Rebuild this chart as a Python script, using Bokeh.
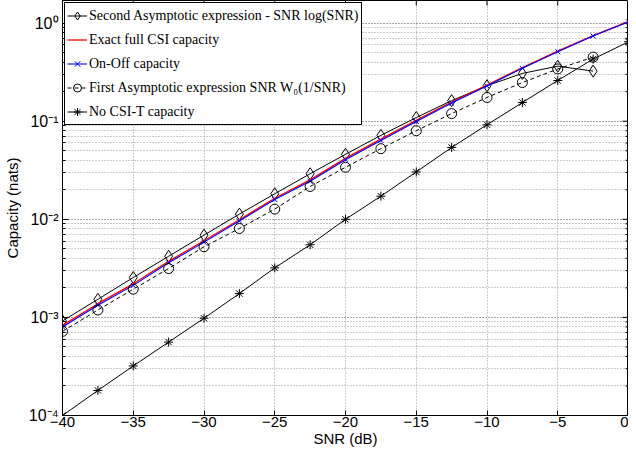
from bokeh.plotting import figure
from bokeh.models import Range1d, FixedTicker, LogTicker, Legend, LegendItem
from bokeh.embed import file_html
from bokeh.resources import INLINE

# ---------------- data ----------------
snr_db = [-40, -37.5, -35, -32.5, -30, -27.5, -25, -22.5, -20,
          -17.5, -15, -12.5, -10, -7.5, -5, -2.5, 0]

# Second asymptotic expression - SNR log(SNR)  (no point at 0 dB)
second_asym = [9.2e-4, 1.53e-3, 2.55e-3, 4.2e-3, 6.9e-3, 0.0113, 0.0182,
               0.0291, 0.046, 0.0717, 0.109, 0.162, 0.23, 0.307, 0.364, 0.324]

# Exact full CSI capacity
exact_csi = [8.3e-4, 1.38e-3, 2.2e-3, 3.73e-3, 6.05e-3, 9.9e-3, 0.0164,
             0.0252, 0.0418, 0.0656, 0.102, 0.157, 0.234, 0.352, 0.518,
             0.745, 1.04]

# On-Off capacity
on_off = [8.0e-4, 1.33e-3, 2.12e-3, 3.6e-3, 5.85e-3, 9.6e-3, 0.0159,
          0.0244, 0.0405, 0.0637, 0.0993, 0.153, 0.229, 0.346, 0.511,
          0.738, 1.03]

# First asymptotic expression SNR W0(1/SNR)  (no point at 0 dB)
first_asym = [7.2e-4, 1.19e-3, 1.94e-3, 3.15e-3, 5.25e-3, 8.06e-3, 0.0127,
              0.0216, 0.0339, 0.0525, 0.0799, 0.1195, 0.1745, 0.248, 0.341,
              0.45]

# No CSI-T capacity
no_csit = [1.0e-4, 1.8e-4, 3.2e-4, 5.6e-4, 9.8e-4, 1.75e-3, 3.2e-3, 5.5e-3,
           0.0100, 0.0172, 0.0304, 0.054, 0.092, 0.155, 0.26, 0.43, 0.645]

x_ticks = [-40, -35, -30, -25, -20, -15, -10, -5, 0]
x_tick_labels = ["\u221240", "\u221235", "\u221230", "\u221225", "\u221220",
                 "\u221215", "\u221210", "\u22125", "0"]
y_ticks = [1e-4, 1e-3, 1e-2, 1e-1, 1e0]
y_tick_labels = ["10\u207b\u2074", "10\u207b\u00b3", "10\u207b\u00b2",
                 "10\u207b\u00b9", "10\u2070"]

labels = ["Second Asymptotic expression - SNR log(SNR)",
          "Exact full CSI capacity",
          "On-Off capacity",
          "First Asymptotic expression SNR W\u2080(1/SNR)",
          "No CSI-T capacity"]

X_MIN, X_MAX = -40, 0
Y_MIN, Y_MAX = 1e-4, 1.7

# ---------------- figure ----------------
p = figure(width=628, height=449, y_axis_type="log",
           x_range=Range1d(X_MIN, X_MAX), y_range=Range1d(Y_MIN, Y_MAX),
           output_backend="svg", toolbar_location=None,
           min_border_left=52, min_border_right=0, min_border_top=0,
           min_border_bottom=30)
p.outline_line_color = "black"
p.outline_line_alpha = 1.0
p.background_fill_color = "white"

sans = "Liberation Sans"
serif = "Liberation Serif"

# bottom axis
xa = p.xaxis[0]
xa.ticker = FixedTicker(ticks=x_ticks)
xa.major_label_overrides = {t: l for t, l in zip(x_ticks, x_tick_labels)}
xa.major_tick_in = 5
xa.major_tick_out = 0
xa.minor_tick_line_color = None
xa.axis_line_color = "black"
xa.major_tick_line_color = "black"
xa.major_label_text_font = sans
xa.major_label_text_font_size = "15px"
xa.major_label_text_color = "black"
xa.major_label_standoff = 1
xa.axis_label = "SNR (dB)"
xa.axis_label_text_font = sans
xa.axis_label_text_font_size = "15px"
xa.axis_label_text_font_style = "normal"
xa.axis_label_text_color = "black"
xa.axis_label_standoff = 0

# left axis
ya = p.yaxis[0]
ya.ticker = LogTicker(num_minor_ticks=10)
ya.major_label_overrides = {t: l for t, l in zip(y_ticks, y_tick_labels)}
ya.major_tick_in = 6
ya.major_tick_out = 0
ya.minor_tick_in = 3
ya.minor_tick_out = 0
ya.axis_line_color = "black"
ya.major_tick_line_color = "black"
ya.minor_tick_line_color = "black"
ya.major_label_text_font = sans
ya.major_label_text_font_size = "16px"
ya.major_label_text_color = "black"
ya.major_label_standoff = 4
ya.axis_label = "Capacity (nats)"
ya.axis_label_text_font = sans
ya.axis_label_text_font_size = "15px"
ya.axis_label_text_font_style = "normal"
ya.axis_label_text_color = "black"
ya.axis_label_standoff = 5

# grids
p.xgrid.ticker = FixedTicker(ticks=x_ticks)
p.xgrid.grid_line_color = "#9a9a9a"
p.xgrid.grid_line_dash = "1 2"
p.ygrid.grid_line_color = "#9a9a9a"
p.ygrid.grid_line_dash = "1 2"
p.ygrid.minor_grid_line_color = "#9a9a9a"
p.ygrid.minor_grid_line_dash = "1 2"

# top / right box ticks (dash markers centred on the frame edge; the
# outer half is clipped by the frame)
minor_y = [m * t for t in y_ticks[:-1] for m in range(2, 10)] + [2 * y_ticks[-1]]
minor_y = [v for v in minor_y if v < Y_MAX]
p.scatter([X_MAX] * len(y_ticks), y_ticks, marker="dash", size=12,
          line_color="black", line_width=1)
p.scatter([X_MAX] * len(minor_y), minor_y, marker="dash", size=6,
          line_color="black", line_width=1)
p.scatter(x_ticks, [Y_MAX] * len(x_ticks), marker="dash", angle=1.5707963,
          size=10, line_color="black", line_width=1)

# ---------------- series ----------------
x_d = snr_db[:len(second_asym)]
l1 = p.line(x_d, second_asym, line_color="black", line_width=1)
m1 = p.scatter(x_d, second_asym, marker="diamond", size=12,
               line_color="black", fill_color=None, line_width=1)

l2 = p.line(snr_db, exact_csi, line_color="red", line_width=1.3)

l3 = p.line(snr_db, on_off, line_color="blue", line_width=1.1)
m3 = p.scatter(snr_db, on_off, marker="x", size=7, line_color="blue",
               line_width=1)

x_c = snr_db[:len(first_asym)]
l4 = p.line(x_c, first_asym, line_color="black", line_width=1,
            line_dash="4 3")
m4 = p.scatter(x_c, first_asym, marker="circle", size=10,
               line_color="black", fill_color=None, line_width=1)

l5 = p.line(snr_db, no_csit, line_color="black", line_width=1)
m5 = p.scatter(snr_db, no_csit, marker="asterisk", size=9,
               line_color="black", line_width=1)

legend = Legend(items=[
    LegendItem(label=labels[0], renderers=[l1, m1]),
    LegendItem(label=labels[1], renderers=[l2]),
    LegendItem(label=labels[2], renderers=[l3, m3]),
    LegendItem(label=labels[3], renderers=[l4, m4]),
    LegendItem(label=labels[4], renderers=[l5, m5]),
], location="top_left")
legend.margin = 2
legend.padding = 2
legend.spacing = 3
legend.label_height = 21
legend.glyph_height = 21
legend.glyph_width = 20
legend.label_standoff = 2
legend.label_text_font = serif
legend.label_text_font_size = "14px"
legend.label_text_color = "black"
legend.border_line_color = "black"
legend.border_line_width = 1
legend.border_line_alpha = 1
legend.background_fill_color = "white"
legend.background_fill_alpha = 1
p.add_layout(legend, "center")

open("out.html", "w").write(file_html(p, INLINE))
